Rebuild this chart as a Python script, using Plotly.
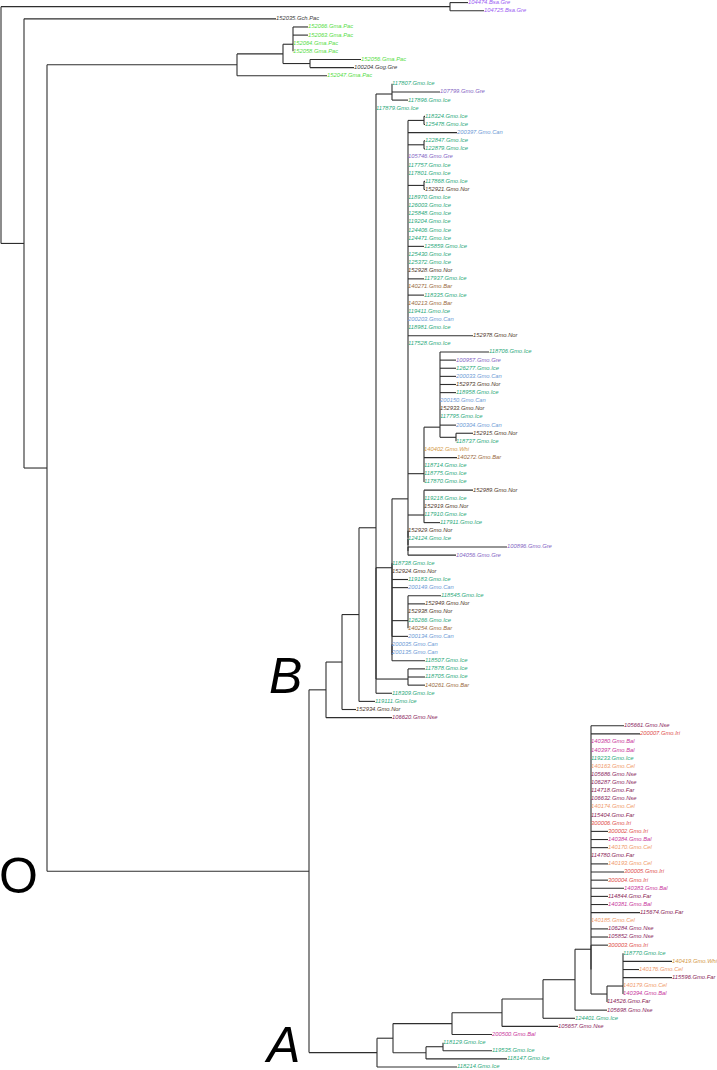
import plotly.graph_objects as go

# ---------------- data ----------------
# Branch lengths in thousandths of a unit (Newick fragments, internal labels name clades)
BL_UNIT = 0.001

clade_bsa = "(104474.Bsa.Gre:18,104725.Bsa.Gre:34)BSA:449"

clade_pac = ("(((152066.Gma.Pac:15,152063.Gma.Pac:15,152064.Gma.Pac:0,152058.Gma.Pac:0):10,"
             "(152056.Gma.Pac:51,100204.Gog.Gre:44):27):46,152047.Gma.Pac:90)PAC:190")

clade_k = "(117807.Gmo.Ice:0,107799.Gmo.Gre:48,117896.Gmo.Ice:16)K:16"
clade_c1 = ("(118706.Gmo.Ice:49,100957.Gmo.Gre:16,126277.Gmo.Ice:16,200033.Gmo.Can:16,"
            "152973.Gmo.Nor:16,118958.Gmo.Ice:16,200150.Gmo.Can:0,152933.Gmo.Nor:0,"
            "117795.Gmo.Ice:0,200304.Gmo.Can:16,(152915.Gmo.Nor:17,118737.Gmo.Ice:0):16)C1:16")
clade_c0 = ("(" + clade_c1 + ",140402.Gmo.Whi:0,140272.Gmo.Bar:33,118714.Gmo.Ice:0,"
            "118775.Gmo.Ice:0,117870.Gmo.Ice:0)C0:16")
clade_q = ("(152989.Gmo.Nor:49,119218.Gmo.Ice:0,152919.Gmo.Nor:0,117910.Gmo.Ice:0,"
           "117911.Gmo.Ice:16)Q:16")
clade_b5 = ("((118324.Gmo.Ice:1,125478.Gmo.Ice:1):16,200397.Gmo.Can:49,"
            "(122847.Gmo.Ice:1,122879.Gmo.Ice:1):16,105746.Gmo.Gre:0,117757.Gmo.Ice:0,"
            "117801.Gmo.Ice:0,(117868.Gmo.Ice:1,152921.Gmo.Nor:1):16,118970.Gmo.Ice:0,"
            "126003.Gmo.Ice:0,125848.Gmo.Ice:0,119204.Gmo.Ice:0,124406.Gmo.Ice:0,"
            "124471.Gmo.Ice:0,125859.Gmo.Ice:16,125430.Gmo.Ice:0,125372.Gmo.Ice:0,"
            "152928.Gmo.Nor:0,117937.Gmo.Ice:16,140271.Gmo.Bar:0,118335.Gmo.Ice:16,"
            "140213.Gmo.Bar:0,119411.Gmo.Ice:0,200203.Gmo.Can:0,118981.Gmo.Ice:0,"
            "152978.Gmo.Nor:65,117528.Gmo.Ice:0," + clade_c0 + "," + clade_q + ","
            "(152929.Gmo.Nor:0,(124124.Gmo.Ice:0,(100896.Gmo.Gre:99,104056.Gmo.Gre:48):0):0):0)B5:16")
clade_s = ("(118545.Gmo.Ice:33,152949.Gmo.Nor:17,152938.Gmo.Nor:0,126266.Gmo.Ice:0,"
           "140254.Gmo.Bar:0)S:16")
clade_b6 = ("(" + clade_b5 + ",(118738.Gmo.Ice:0,152924.Gmo.Nor:0,119183.Gmo.Ice:16,"
            "200149.Gmo.Can:16," + clade_s + ",200134.Gmo.Can:16,"
            "(200035.Gmo.Can:0,200135.Gmo.Can:0,118507.Gmo.Ice:33):0):0)B6:16")
clade_r = "(117878.Gmo.Ice:17,118705.Gmo.Ice:17,140261.Gmo.Bar:17)R:32"
clade_b4 = ("(" + clade_k + ",117879.Gmo.Ice:0,(" + clade_b6 + "," + clade_r + "):0,"
            "118309.Gmo.Ice:16)B4:17")
clade_b = ("(((" + clade_b4 + ",119111.Gmo.Ice:16):17,152934.Gmo.Nor:14):16,"
           "106620.Gmo.Nse:66)B:17")

clade_a11 = ("(118770.Gmo.Ice:0,140419.Gmo.Whi:49,140176.Gmo.Cel:16,115596.Gmo.Far:49,"
             "140179.Gmo.Cel:0,140394.Gmo.Bal:0):16")
clade_a9 = ("(105661.Gmo.Nse:33,200007.Gmo.Iri:49,140380.Gmo.Bal:0,140397.Gmo.Bal:0,"
            "119233.Gmo.Ice:0,140163.Gmo.Cel:0,105686.Gmo.Nse:0,106287.Gmo.Nse:0,"
            "114718.Gmo.Far:0,106632.Gmo.Nse:0,140174.Gmo.Cel:0,115404.Gmo.Far:0,"
            "300006.Gmo.Iri:0,300002.Gmo.Iri:17,140384.Gmo.Bal:17,140170.Gmo.Cel:17,"
            "114780.Gmo.Far:0,140193.Gmo.Cel:17,300005.Gmo.Iri:33,300004.Gmo.Iri:17,"
            "140383.Gmo.Bal:33,114844.Gmo.Far:17,140381.Gmo.Bal:17,115674.Gmo.Far:49,"
            "140185.Gmo.Cel:0,106284.Gmo.Nse:17,105852.Gmo.Nse:17,"
            "(300003.Gmo.Iri:17,(" + clade_a11 + ",114526.Gmo.Far:0):16):0):16")
clade_a = ("((((((" + clade_a9 + ",105698.Gmo.Nse:32):32,124401.Gmo.Ice:32):41,"
           "105657.Gmo.Nse:56):50,200500.Gmo.Bal:40):59,"
           "((118129.Gmo.Ice:0,119535.Gmo.Ice:49):17,118147.Gmo.Ice:81):33):16,"
           "118214.Gmo.Ice:80)A:68")

tree_newick = ("(" + clade_bsa + ",(152035.Gch.Pac:252,(" + clade_pac + ",(" +
               clade_b + "," + clade_a + ")O:262)N2:23):23);")

group_colors = {
    "Bsa.Gre": "#9b5cf2", "Gch.Pac": "#3a3a3a", "Gma.Pac": "#55dd44",
    "Gog.Gre": "#3a3a3a", "Gmo.Gre": "#8466c4", "Gmo.Ice": "#2aa87a",
    "Gmo.Can": "#6d9ad6", "Gmo.Nor": "#4e3828", "Gmo.Bar": "#9a6b3e",
    "Gmo.Whi": "#d49a48", "Gmo.Nse": "#8a1f5e", "Gmo.Iri": "#e0504c",
    "Gmo.Bal": "#c8389c", "Gmo.Cel": "#f09a6c", "Gmo.Far": "#8a2456",
}

clade_letters = ["O", "B", "A"]

# ---------------- parse & layout ----------------
def parse_newick(s):
    s = "".join(s.split())
    pos = 0

    def node():
        nonlocal pos
        n = {"children": [], "name": "", "bl": 0.0}
        if s[pos] == "(":
            pos += 1
            while True:
                n["children"].append(node())
                if s[pos] == ",":
                    pos += 1
                else:
                    pos += 1
                    break
        st = pos
        while pos < len(s) and s[pos] not in ":,();":
            pos += 1
        n["name"] = s[st:pos]
        if pos < len(s) and s[pos] == ":":
            pos += 1
            st = pos
            while pos < len(s) and s[pos] not in ",();":
                pos += 1
            n["bl"] = float(s[st:pos]) * BL_UNIT
        return n

    return node()


root = parse_newick(tree_newick)
leaves = []
named = {}


def layout(n, x0):
    n["x"] = x0 + n["bl"]
    if n["name"]:
        named[n["name"]] = n
    if not n["children"]:
        n["y"] = len(leaves)
        leaves.append(n)
        return
    for c in n["children"]:
        layout(c, n["x"])
    y = n["children"][0]["y"]
    for c in n["children"][1:]:
        y = (y + c["y"]) / 2.0
    n["y"] = y


root["bl"] = 0.0
layout(root, 0.0)

lx, ly = [], []


def segs(n):
    if not n["children"]:
        return
    ys = [c["y"] for c in n["children"]]
    lx.extend([n["x"], n["x"], None])
    ly.extend([min(ys), max(ys), None])
    for c in n["children"]:
        if c["x"] > n["x"]:
            lx.extend([n["x"], c["x"], None])
            ly.extend([c["y"], c["y"], None])
        segs(c)


segs(root)

# pixel scaling helpers for layout only
PX_X = 0.001
PX_Y = 1 / 8.13

fig = go.Figure()
fig.add_trace(go.Scatter(x=lx, y=ly, mode="lines",
                         line=dict(color="#2e2e2e", width=1.1),
                         hoverinfo="skip", showlegend=False))

labels = [l["name"] for l in leaves]
colors = [group_colors[".".join(n.split(".")[1:])] for n in labels]
fig.add_trace(go.Scatter(
    x=[l["x"] for l in leaves], y=[l["y"] for l in leaves],
    mode="text", text=labels, textposition="middle right",
    textfont=dict(family="Liberation Sans", size=5.8, color=colors, style="italic"),
    hoverinfo="skip", showlegend=False))

anns = []
nO, nB, nA = named["O"], named["B"], named["A"]
nN2 = named["N2"]
anns.append(dict(text="O", x=nN2["x"] - 7 * PX_X, y=nO["y"] + 5 * PX_Y,
                 xanchor="right", yanchor="middle", showarrow=False,
                 font=dict(family="Liberation Sans", size=50, color="black")))
anns.append(dict(text="B", x=nO["x"] - 5 * PX_X, y=nB["y"] - 13.5 * PX_Y,
                 xanchor="right", yanchor="middle", showarrow=False,
                 font=dict(family="Liberation Sans", size=50, color="black", style="italic")))
anns.append(dict(text="A", x=nO["x"] - 7 * PX_X, y=nA["y"] - 7.5 * PX_Y,
                 xanchor="right", yanchor="middle", showarrow=False,
                 font=dict(family="Liberation Sans", size=50, color="black", style="italic")))

fig.update_layout(
    width=717, height=1070, margin=dict(l=0, r=0, t=0, b=0, pad=0),
    paper_bgcolor="white", plot_bgcolor="white", annotations=anns,
    xaxis=dict(visible=False, range=[-0.001, 0.716], fixedrange=True),
    yaxis=dict(visible=False, range=[(1070 - 2) * PX_Y, -2.6 * PX_Y], fixedrange=True),
)
fig.write_html("out.html", config={"displayModeBar": False},
               post_script="document.body.style.margin='0';document.body.style.overflow='hidden';")
